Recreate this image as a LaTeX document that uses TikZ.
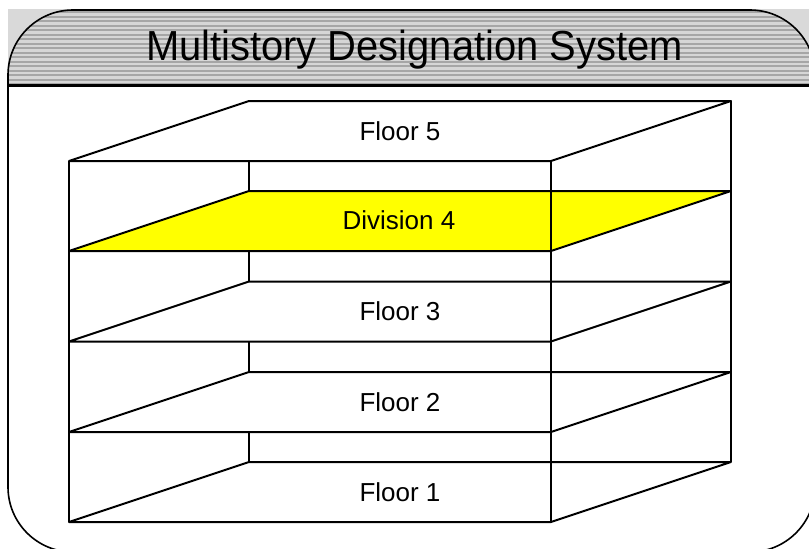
\documentclass[tikz,border=0pt]{standalone}
\usepackage{fontspec}
\usepackage{graphicx}
\setmainfont{Liberation Sans}
\definecolor{stripeA}{HTML}{D6D6D6}
\definecolor{stripeB}{HTML}{A6A6A6}
\definecolor{outgray}{HTML}{D9D9D9}
\definecolor{divyellow}{HTML}{FFFF00}
\tikzset{
  edge/.style={line width=2pt, line join=round},
  shelf/.style={edge, fill=white},
  divshelf/.style={edge, fill=divyellow},
  shelftext/.style={font=\fontsize{26}{26}\selectfont, anchor=base, inner sep=0pt},
  frame/.style={line width=1.6pt, rounded corners=65pt},
}
\begin{document}
\begin{tikzpicture}[x=1pt,y=-1pt]
\useasboundingbox (0,0) rectangle (809,549);
\clip (0,0) rectangle (809,549);
% light gray background behind the title band
\fill[outgray] (8,9) rectangle (809,85);
% striped title band
\begin{scope}
  \clip[rounded corners=65pt] (8,10) rectangle (815,552);
  \clip (0,0) rectangle (815,85);
  \fill[stripeA] (0,0) rectangle (815,85);
  \foreach \i in {0,...,16} {
    \fill[stripeB] (0,{11+\i*4.5}) rectangle (815,{11+\i*4.5+2.2});
  }
\end{scope}
% white body
\fill[white,rounded corners=65pt] (8,85) -- (8,552) -- (815,552) -- (815,85) -- cycle;
% frame
\draw[frame] (8,10) rectangle (815,552);
\draw[line width=3pt] (8,85) -- (815,85);
\node[font=\fontsize{42}{42}\selectfont, anchor=base, inner sep=0pt] (title) at (414.5,60) {\scalebox{0.95}[1]{Multistory Designation System}};
% shelf corner coordinates
\foreach \k/\yf in {5/161,4/251,3/341.5,2/432,1/522} {
  \coordinate (fl\k) at (69,\yf);
  \coordinate (fr\k) at (551,\yf);
  \coordinate (br\k) at (731,\yf-60);
  \coordinate (bl\k) at (249,\yf-60);
}
% back verticals
\draw[edge] (bl5) -- (bl1);
\draw[edge] (br5) -- (br1);
% shelves
\foreach \k in {5,3,2,1} {
  \filldraw[shelf] (fl\k) -- (fr\k) -- (br\k) -- (bl\k) -- cycle;
}
\filldraw[divshelf] (fl4) -- (fr4) -- (br4) -- (bl4) -- cycle;
% front verticals
\draw[edge] (fl5) -- (fl1);
\draw[edge] (fr5) -- (fr1);
% labels
\node[shelftext] (t5) at (400,140) {Floor 5};
\node[shelftext] (t4) at (399,229) {Division 4};
\node[shelftext] (t3) at (400,320) {Floor 3};
\node[shelftext] (t2) at (400,411) {Floor 2};
\node[shelftext] (t1) at (400,501) {Floor 1};
\end{tikzpicture}
\end{document}
